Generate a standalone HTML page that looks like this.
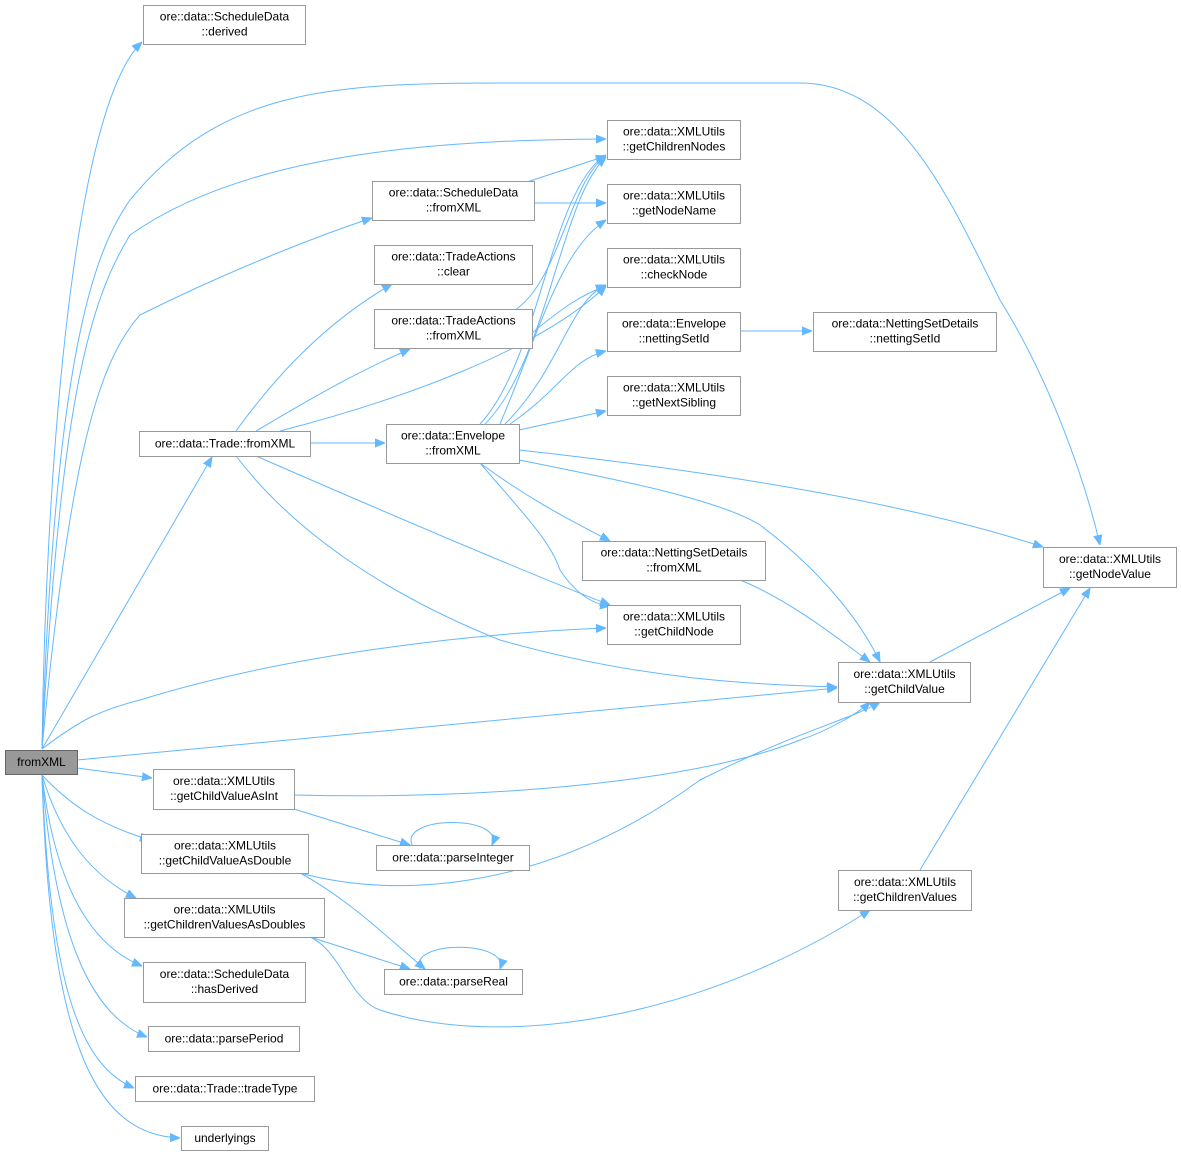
<!DOCTYPE html>
<html><head><meta charset="utf-8"><style>
html,body{margin:0;padding:0;background:#fff;}
svg{display:block;}
text{font-family:"Liberation Sans",Arial,sans-serif;font-size:12px;fill:#000;}
.n{fill:#fff;stroke:#999;stroke-width:1;}
.e{fill:none;stroke:#63b8ff;stroke-width:1;}
</style></head><body>
<svg width="1181" height="1157" viewBox="0 0 1181 1157" xmlns="http://www.w3.org/2000/svg">
<defs><marker id="a" viewBox="0 0 10 10" refX="10" refY="5" markerWidth="10" markerHeight="10" markerUnits="userSpaceOnUse" orient="auto"><path d="M0,1 L10,5 L0,9 z" fill="#63b8ff" stroke="#63b8ff"/></marker></defs>
<g class="e" marker-end="url(#a)">
<path d="M42,749 C45,500 70,110 142,42"/>
<path d="M42,749 C55,350 95,250 130,200 C220,90 330,83 500,83 L800,83 C900,83 950,200 1000,300 C1050,380 1085,480 1100,545"/>
<path d="M42,749 C60,400 90,300 130,235 C250,150 450,140 606,139"/>
<path d="M42,749 C70,450 100,360 140,315 C230,270 320,235 372,218"/>
<path d="M42,749 L212,457"/>
<path d="M42,749 C80,720 100,710 140,700 C300,650 500,632 606,628"/>
<path d="M77,760 L837,688"/>
<path d="M77,768 L152,778"/>
<path d="M42,775 C70,805 100,825 150,840"/>
<path d="M42,775 C60,835 90,875 136,898"/>
<path d="M42,775 C55,885 90,945 142,966"/>
<path d="M42,775 C55,935 90,1015 147,1037"/>
<path d="M42,775 C50,985 80,1065 134,1088"/>
<path d="M42,775 C50,1055 100,1135 180,1138"/>
<path d="M310,443 L385,443"/>
<path d="M236,431 C280,370 330,320 392,284"/>
<path d="M256,431 C300,405 350,375 410,349"/>
<path d="M280,431 C400,400 540,350 606,286"/>
<path d="M256,456 C380,510 520,570 610,605"/>
<path d="M236,456 C300,540 400,600 500,640 C640,680 760,685 837,687"/>
<path d="M480,424 C540,360 550,190 606,155"/>
<path d="M485,424 C548,360 560,200 606,157"/>
<path d="M500,424 C540,330 560,250 606,220"/>
<path d="M505,424 C560,370 570,300 606,285"/>
<path d="M510,424 C560,390 570,360 606,351"/>
<path d="M519,430 L606,411"/>
<path d="M519,450 C700,470 900,500 1043,547"/>
<path d="M519,460 C620,480 720,500 760,525 C820,570 860,620 880,662"/>
<path d="M480,463 C530,500 570,520 610,541"/>
<path d="M480,463 C520,510 550,540 560,570 C580,600 600,605 610,606"/>
<path d="M527,182 L606,156"/>
<path d="M534,203 L606,203"/>
<path d="M515,310 C560,280 570,180 606,156"/>
<path d="M532,333 C560,310 580,295 606,286"/>
<path d="M740,331 L812,331"/>
<path d="M740,580 C790,600 840,640 870,662"/>
<path d="M930,662 L1070,588"/>
<path d="M920,870 L1090,588"/>
<path d="M294,795 C500,800 700,780 800,740 C830,730 860,712 870,702"/>
<path d="M294,809 L410,845"/>
<path d="M412,845 C400,815 505,815 492,845"/>
<path d="M300,873 C400,900 550,890 700,780 C800,730 850,720 880,702"/>
<path d="M300,873 C350,900 390,940 425,969"/>
<path d="M420,969 C408,940 510,940 500,969"/>
<path d="M310,937 L410,969"/>
<path d="M310,937 C340,950 350,1000 380,1010 C500,1050 700,1020 870,910"/>
</g>
<rect x="5.5" y="750.5" width="72" height="24" fill="#999" stroke="#666"/>
<text x="41.5" y="766" text-anchor="middle">fromXML</text>
<g>
<rect class="n" x="143.5" y="5.5" width="162" height="39"/><text x="224.5" y="20.5" text-anchor="middle">ore::data::ScheduleData</text><text x="224.5" y="35.5" text-anchor="middle">::derived</text>
<rect class="n" x="607.5" y="120.5" width="133" height="39"/><text x="674" y="135.5" text-anchor="middle">ore::data::XMLUtils</text><text x="674" y="150.5" text-anchor="middle">::getChildrenNodes</text>
<rect class="n" x="372.5" y="181.5" width="162" height="39"/><text x="453.5" y="196.5" text-anchor="middle">ore::data::ScheduleData</text><text x="453.5" y="211.5" text-anchor="middle">::fromXML</text>
<rect class="n" x="607.5" y="184.5" width="133" height="39"/><text x="674" y="199.5" text-anchor="middle">ore::data::XMLUtils</text><text x="674" y="214.5" text-anchor="middle">::getNodeName</text>
<rect class="n" x="374.5" y="245.5" width="158" height="39"/><text x="453.5" y="260.5" text-anchor="middle">ore::data::TradeActions</text><text x="453.5" y="275.5" text-anchor="middle">::clear</text>
<rect class="n" x="607.5" y="248.5" width="133" height="39"/><text x="674" y="263.5" text-anchor="middle">ore::data::XMLUtils</text><text x="674" y="278.5" text-anchor="middle">::checkNode</text>
<rect class="n" x="374.5" y="309.5" width="158" height="39"/><text x="453.5" y="324.5" text-anchor="middle">ore::data::TradeActions</text><text x="453.5" y="339.5" text-anchor="middle">::fromXML</text>
<rect class="n" x="607.5" y="312.5" width="133" height="39"/><text x="674" y="327.5" text-anchor="middle">ore::data::Envelope</text><text x="674" y="342.5" text-anchor="middle">::nettingSetId</text>
<rect class="n" x="813.5" y="312.5" width="183" height="39"/><text x="905" y="327.5" text-anchor="middle">ore::data::NettingSetDetails</text><text x="905" y="342.5" text-anchor="middle">::nettingSetId</text>
<rect class="n" x="607.5" y="376.5" width="133" height="39"/><text x="674" y="391.5" text-anchor="middle">ore::data::XMLUtils</text><text x="674" y="406.5" text-anchor="middle">::getNextSibling</text>
<rect class="n" x="139.5" y="431.5" width="171" height="25"/><text x="225" y="447.5" text-anchor="middle">ore::data::Trade::fromXML</text>
<rect class="n" x="386.5" y="424.5" width="133" height="39"/><text x="453" y="439.5" text-anchor="middle">ore::data::Envelope</text><text x="453" y="454.5" text-anchor="middle">::fromXML</text>
<rect class="n" x="582.5" y="541.5" width="183" height="39"/><text x="674" y="556.5" text-anchor="middle">ore::data::NettingSetDetails</text><text x="674" y="571.5" text-anchor="middle">::fromXML</text>
<rect class="n" x="1043.5" y="547.5" width="133" height="40"/><text x="1110" y="563" text-anchor="middle">ore::data::XMLUtils</text><text x="1110" y="578" text-anchor="middle">::getNodeValue</text>
<rect class="n" x="607.5" y="605.5" width="133" height="39"/><text x="674" y="620.5" text-anchor="middle">ore::data::XMLUtils</text><text x="674" y="635.5" text-anchor="middle">::getChildNode</text>
<rect class="n" x="838.5" y="662.5" width="132" height="40"/><text x="904.5" y="678" text-anchor="middle">ore::data::XMLUtils</text><text x="904.5" y="693" text-anchor="middle">::getChildValue</text>
<rect class="n" x="153.5" y="769.5" width="141" height="40"/><text x="224" y="785" text-anchor="middle">ore::data::XMLUtils</text><text x="224" y="800" text-anchor="middle">::getChildValueAsInt</text>
<rect class="n" x="376.5" y="845.5" width="153" height="25"/><text x="453" y="861.5" text-anchor="middle">ore::data::parseInteger</text>
<rect class="n" x="141.5" y="834.5" width="167" height="39"/><text x="225" y="849.5" text-anchor="middle">ore::data::XMLUtils</text><text x="225" y="864.5" text-anchor="middle">::getChildValueAsDouble</text>
<rect class="n" x="838.5" y="870.5" width="133" height="40"/><text x="905" y="886" text-anchor="middle">ore::data::XMLUtils</text><text x="905" y="901" text-anchor="middle">::getChildrenValues</text>
<rect class="n" x="124.5" y="898.5" width="200" height="39"/><text x="224.5" y="913.5" text-anchor="middle">ore::data::XMLUtils</text><text x="224.5" y="928.5" text-anchor="middle">::getChildrenValuesAsDoubles</text>
<rect class="n" x="384.5" y="969.5" width="138" height="25"/><text x="453.5" y="985.5" text-anchor="middle">ore::data::parseReal</text>
<rect class="n" x="143.5" y="962.5" width="162" height="40"/><text x="224.5" y="978" text-anchor="middle">ore::data::ScheduleData</text><text x="224.5" y="993" text-anchor="middle">::hasDerived</text>
<rect class="n" x="148.5" y="1026.5" width="151" height="25"/><text x="224" y="1042.5" text-anchor="middle">ore::data::parsePeriod</text>
<rect class="n" x="135.5" y="1076.5" width="179" height="25"/><text x="225" y="1092.5" text-anchor="middle">ore::data::Trade::tradeType</text>
<rect class="n" x="181.5" y="1126.5" width="87" height="24"/><text x="225" y="1142" text-anchor="middle">underlyings</text>
</g>
</svg>
</body></html>
